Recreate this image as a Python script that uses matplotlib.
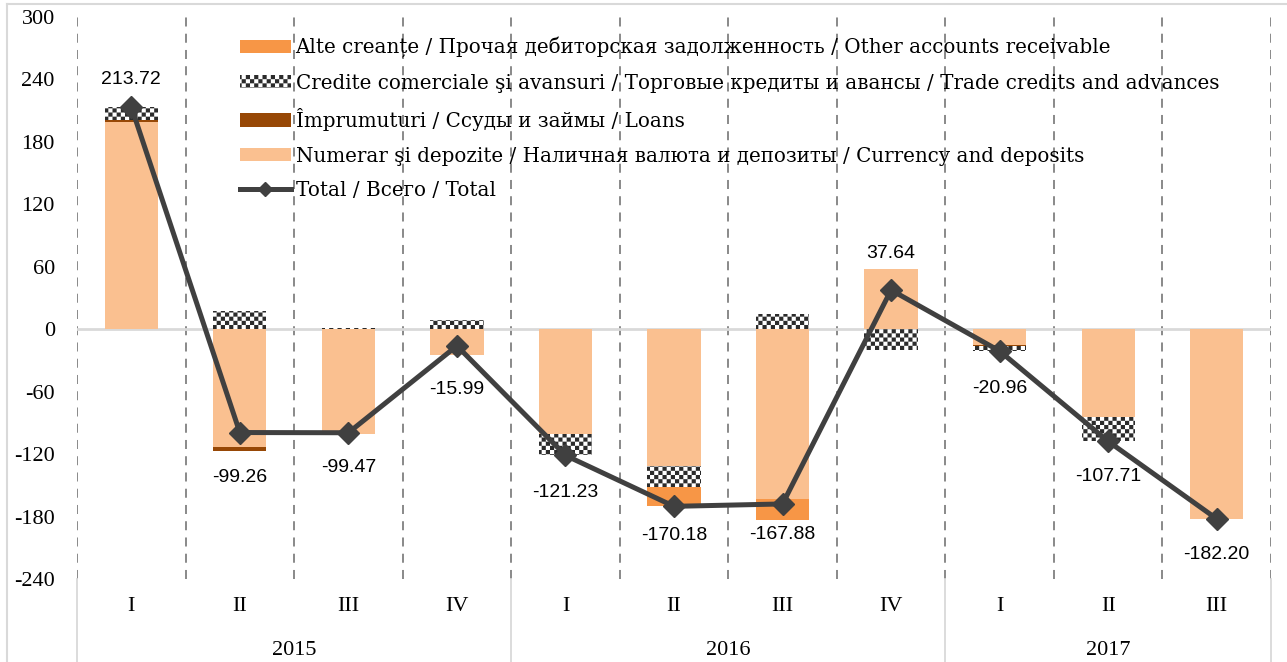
import numpy as np
import matplotlib
matplotlib.use('Agg')
import matplotlib.pyplot as plt
import matplotlib.hatch as mhatch
from matplotlib.path import Path
from matplotlib.lines import Line2D

# quarters and years on the category axis
quarters = ['I', 'II', 'III', 'IV', 'I', 'II', 'III', 'IV', 'I', 'II', 'III']
years = ['2015', '2016', '2017']
quarters_per_year = [4, 4, 3]

# components (mil. USD)
currency = [198.7, -113.0, -100.2, -24.5, -101.0, -131.4, -163.4, 57.5, -15.5, -84.6, -182.2]
loans = [2.0, -4.0, 0, 0, 0, 0, 0, 0, -0.8, 0, 0]
trade = [13.0, 17.7, 0.7, 8.5, -20.2, -20.3, 15.0, -19.9, -4.66, -23.1, 0]
other = [0, 0, 0, 0, 0, -18.5, -19.5, 0, 0, 0, 0]
total = [213.72, -99.26, -99.47, -15.99, -121.23, -170.18, -167.88, 37.64, -20.96, -107.71, -182.20]

labels = ['Alte creanțe / Прочая дебиторская задолженность / Other accounts receivable',
          'Credite comerciale şi avansuri / Торговые кредиты и авансы / Trade credits and advances',
          'Împrumuturi / Ссуды и займы / Loans',
          'Numerar şi depozite / Наличная валюта и депозиты / Currency and deposits',
          'Total / Всего / Total']


# small checkerboard fill, like the Excel pattern (uses the 'O' hatch letter)
class Checker(mhatch.HatchPatternBase):
    def __init__(self, hatch, density):
        self.n = hatch.count('O') * density
        self.num_vertices = (self.n * self.n // 2) * 5

    def set_vertices_and_codes(self, vertices, codes):
        s = 1.0 / self.n
        sq = np.array([[0, 0], [s, 0], [s, s], [0, s], [0, 0]])
        cells = [(i, j) for i in range(self.n) for j in range(self.n) if (i + j) % 2 == 0]
        vertices[:] = np.concatenate([sq + [i * s, j * s] for i, j in cells])
        codes[:] = np.tile([Path.MOVETO, Path.LINETO, Path.LINETO, Path.LINETO, Path.CLOSEPOLY], len(cells))


mhatch._hatch_types = [t for t in mhatch._hatch_types if t is not mhatch.LargeCircles] + [Checker]
plt.rcParams['hatch.linewidth'] = 0.01
plt.rcParams['hatch.color'] = '#2b2b2b'
plt.rcParams['font.family'] = ['Liberation Serif', 'DejaVu Serif']
plt.rcParams['axes.unicode_minus'] = False

fig = plt.figure(figsize=(12.87, 6.62), dpi=100)
ax = fig.add_axes([77 / 1287, 1 - 579 / 662, 1194 / 1287, 562 / 662])

x = np.arange(len(quarters))
pos_bottom = np.zeros(len(x))
neg_bottom = np.zeros(len(x))
series = [(currency, dict(color='#FAC090')),
          (loans, dict(color='#974806')),
          (trade, dict(color='white', hatch='OOOO', edgecolor='#2b2b2b', linewidth=0)),
          (other, dict(color='#F79646'))]
handles = []
for vals, style in series:
    vals = np.array(vals, dtype=float)
    bottom = np.where(vals >= 0, pos_bottom, neg_bottom)
    b = ax.bar(x, vals, width=0.49, bottom=bottom, zorder=2, **style)
    handles.append(b)
    pos_bottom += np.where(vals > 0, vals, 0)
    neg_bottom += np.where(vals < 0, vals, 0)

line, = ax.plot(x, total, color='#404040', lw=3.6, marker='D', markersize=11, zorder=4)

# data labels
dy = [-27, 45, 35, 44, 37, 29, 31, -37, 37, 35, 36]
for xi, v, d in zip(x, total, dy):
    ax.annotate(f'{v:.2f}', (xi, v), xytext=(0, -d), textcoords='offset pixels',
                ha='center', va='center', fontsize=14, family=['Liberation Sans', 'DejaVu Sans'],
                zorder=5)

ax.set_xlim(-0.5, len(x) - 0.5)
ax.set_ylim(-240, 300)
ax.set_yticks(np.arange(-240, 301, 60))
for s in ax.spines.values():
    s.set_visible(False)
ax.tick_params(axis='y', length=0, pad=16, labelsize=16)
ax.set_xticks(x)
ax.set_xticklabels(quarters)
ax.tick_params(axis='x', length=0, pad=13, labelsize=16)

# gridlines between quarters and zero line
for b in np.arange(-0.5, len(x), 1):
    ax.axvline(b, color='#808080', lw=1.3, dashes=(5, 4), zorder=1)
ax.axhline(0, color='#d9d9d9', lw=2, zorder=1)

# year labels and separators
start = 0
for yr, n in zip(years, quarters_per_year):
    ax.text(start + (n - 1) / 2, -0.128, yr, transform=ax.get_xaxis_transform(),
            ha='center', va='center', fontsize=16)
    start += n
for b in np.concatenate([[0], np.cumsum(quarters_per_year)]) - 0.5:
    ax.plot([b, b], [0, -0.16], transform=ax.get_xaxis_transform(), color='#d9d9d9',
            lw=1.3, clip_on=False)

# chart border
fig.add_artist(Line2D([7 / 1287, 1], [1 - 4 / 662, 1 - 4 / 662], color='#d9d9d9', lw=1.5))
fig.add_artist(Line2D([7 / 1287, 7 / 1287], [0, 1 - 4 / 662], color='#d9d9d9', lw=1.5))

leg_handles = [handles[3], handles[2], handles[1], handles[0], line]
leg = fig.legend(leg_handles, labels, loc='upper left', bbox_to_anchor=(240 / 1287, 1 - 37 / 662),
                 frameon=False, prop={'family': ['DejaVu Serif'], 'size': 14.3},
                 handlelength=2.55, handleheight=0.65, handletextpad=0.25,
                 labelspacing=0.78, borderpad=0, borderaxespad=0)
leg.legend_handles[4].set_markersize(7)

fig.savefig('out.png', dpi=100)
